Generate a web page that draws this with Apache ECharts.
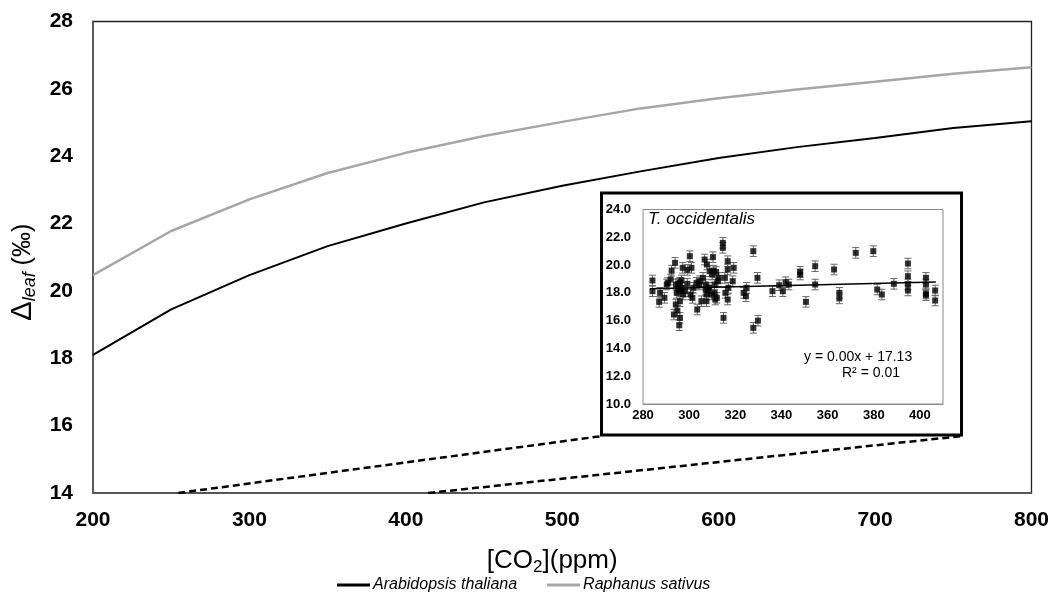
<!DOCTYPE html>
<html>
<head>
<meta charset="utf-8">
<script src="https://cdn.jsdelivr.net/npm/echarts@6/dist/echarts.min.js"></script>
<style>
html,body{margin:0;padding:0;background:#fff;}
#chart{width:1052px;height:592px;}
</style>
</head>
<body>
<div id="chart"></div>
<script>
// ---- Main chart data ----
const co2 = [200, 250, 300, 350, 400, 450, 500, 550, 600, 650, 700, 750, 800];
const arabidopsis = [18.1, 19.45, 20.47, 21.33, 22.0, 22.63, 23.12, 23.55, 23.95, 24.27, 24.54, 24.84, 25.04];
const raphanus = [20.47, 21.78, 22.72, 23.5, 24.1, 24.6, 25.02, 25.42, 25.72, 25.98, 26.21, 26.45, 26.64];
const connectorLeft = [[254.5, 14], [525.3, 15.69]];
const connectorRight = [[414.3, 14], [755.5, 15.69]];
const mainXTicks = [200, 300, 400, 500, 600, 700, 800];
const mainYTicks = [14, 16, 18, 20, 22, 24, 26, 28];

// ---- Inset (T. occidentalis) data ----
const insetCO2 = [284.1, 284.1, 287.0, 287.4, 289.3, 290.7, 292.4, 293.4, 293.9, 294.2, 294.6, 294.9, 295.3, 295.7, 296.0, 296.4, 296.7, 297.2, 297.4, 296.0,
  299.2, 300.3, 300.6, 301.0, 299.2, 301.4, 303.5, 304.3, 305.3, 306.0, 306.7, 307.2, 307.7, 308.2, 307.5, 308.9, 309.6, 310.3, 310.6, 311.0,
  311.3, 311.7, 312.0, 312.5, 314.6, 314.6, 314.9, 315.7, 316.7, 316.7, 316.7, 317.0, 318.9, 319.3, 323.6, 324.6, 324.9, 327.8, 327.8, 329.6,
  329.8, 336.1, 339.0, 340.6, 341.8, 343.2, 348.1, 348.1, 350.6, 354.6, 354.6, 362.8, 365.1, 365.1, 372.2, 379.8, 381.5, 383.5, 388.7, 394.8,
  394.8, 394.8, 394.8, 402.6, 402.6, 402.6, 402.6, 406.6, 406.6,
  290.3, 292.0, 294.3, 295.3, 296.0, 296.7, 298.2, 301.8, 303.2, 304.6, 307.2, 307.5, 308.6, 310.0, 311.0, 312.9, 315.5];
const insetDelta = [18.89, 18.12, 17.35, 18.0, 17.64, 18.7, 19.6, 16.44, 20.16, 17.16, 18.0, 16.72, 18.65, 15.67, 16.2, 18.12, 18.89, 19.8, 17.88, 17.4,
  19.65, 20.64, 17.88, 19.8, 18.65, 17.64, 16.8, 18.6, 17.4, 19.08, 20.4, 18.6, 20.04, 18.17, 17.4, 19.56, 17.88, 20.57, 19.6, 18.6,
  17.52, 19.5, 17.64, 18.84, 21.6, 21.24, 16.2, 18.0, 20.28, 19.68, 17.52, 18.36, 18.84, 19.8, 18.0, 17.76, 18.36, 15.48, 21.0, 19.08,
  16.0, 18.12, 18.55, 18.12, 18.77, 18.6, 19.51, 19.32, 17.35, 19.92, 18.6, 19.68, 18.0, 17.6, 20.88, 21.0, 18.24, 17.88, 18.65, 20.11,
  19.2, 18.6, 18.17, 19.08, 18.6, 17.95, 17.83, 18.17, 17.45,
  18.6, 18.96, 18.6, 18.24, 18.72, 18.36, 18.12, 18.36, 18.72, 18.84, 18.24, 17.88, 18.36, 19.32, 18.0, 19.08, 19.08];
const insetErrorBar = 0.38;
const insetTrendCO2 = [283.1, 406.9];
const insetTrendDelta = [18.29, 18.79];
const insetXTicks = [280, 300, 320, 340, 360, 380, 400];
const insetYTicks = [10, 12, 14, 16, 18, 20, 22, 24];
const insetTitle = 'T. occidentalis';
const insetEquation = 'y = 0.00x + 17.13';
const insetR2 = 'R² = 0.01';

const zip = (a, b) => a.map((v, i) => [v, b[i]]);
const FONT = '"Liberation Sans", Arial, sans-serif';

const chart = echarts.init(document.getElementById('chart'), null, {renderer: 'canvas'});

const option = {
  animation: false,
  backgroundColor: '#fff',
  textStyle: {fontFamily: FONT},
  grid: [
    {left: 93, right: 20, top: 21.5, bottom: 99, show: true, borderColor: '#222', borderWidth: 1.3, backgroundColor: 'transparent'},
    {left: 643, right: 109, top: 209.5, bottom: 188, show: true, borderColor: '#8a8a8a', borderWidth: 1, backgroundColor: '#fff', z: 3}
  ],
  xAxis: [
    {
      type: 'value', gridIndex: 0, min: mainXTicks[0], max: mainXTicks[mainXTicks.length - 1], interval: 100,
      splitLine: {show: false}, axisTick: {show: false},
      axisLine: {lineStyle: {color: '#555', width: 1.5}},
      axisLabel: {color: '#000', fontWeight: 'bold', fontSize: 21, fontFamily: FONT, margin: 17},
      name: '[CO{sub|2}](ppm)', nameLocation: 'middle', nameGap: 52,
      nameTextStyle: {color: '#000', fontSize: 26, fontFamily: FONT, padding: [0, 20, 0, 0],
        rich: {sub: {fontSize: 17, fontFamily: FONT, color: '#000', padding: [14, 0, 0, 0]}}}
    },
    {
      type: 'value', gridIndex: 1, min: insetXTicks[0], max: 410, interval: 20,
      splitLine: {show: false}, axisTick: {show: false},
      axisLine: {lineStyle: {color: '#8a8a8a', width: 1}},
      axisLabel: {color: '#000', fontWeight: 'bold', fontSize: 13, fontFamily: FONT, margin: 5, showMaxLabel: false}
    }
  ],
  yAxis: [
    {
      type: 'value', gridIndex: 0, min: mainYTicks[0], max: mainYTicks[mainYTicks.length - 1], interval: 2,
      splitLine: {show: false}, axisTick: {show: false},
      axisLine: {show: true, lineStyle: {color: '#555', width: 1.5}},
      axisLabel: {color: '#000', fontWeight: 'bold', fontSize: 21, fontFamily: FONT, margin: 20},
      name: '{d|Δ}{s|leaf}{p| (‰)}', nameLocation: 'middle', nameGap: 41, nameRotate: 90,
      nameTextStyle: {color: '#000', fontFamily: FONT, padding: [0, 30, 0, 0],
        rich: {
          d: {fontSize: 29, fontFamily: FONT, color: '#000'},
          s: {fontSize: 18, fontStyle: 'italic', fontFamily: FONT, color: '#000', padding: [14, 0, 0, 0]},
          p: {fontSize: 25, fontFamily: FONT, color: '#000'}
        }}
    },
    {
      type: 'value', gridIndex: 1, min: insetYTicks[0], max: insetYTicks[insetYTicks.length - 1], interval: 2,
      splitLine: {show: false}, axisTick: {show: false},
      axisLine: {show: true, lineStyle: {color: '#8a8a8a', width: 1}},
      axisLabel: {color: '#000', fontWeight: 'bold', fontSize: 13, fontFamily: FONT, margin: 12,
        formatter: v => v.toFixed(1)}
    }
  ],
  legend: {
    left: 332, top: 572, itemWidth: 33, itemHeight: 3, itemGap: 30, icon: 'rect',
    textStyle: {fontSize: 16, fontStyle: 'italic', color: '#000', fontFamily: FONT, padding: [0, 0, 0, -2]},
    data: ['Arabidopsis thaliana', 'Raphanus sativus']
  },
  graphic: [
    {type: 'rect', z: -10, shape: {x: 601.5, y: 193, width: 360, height: 242},
      style: {fill: '#fff', stroke: '#000', lineWidth: 3}},
    {type: 'text', left: 648, top: 211, z: 10,
      style: {text: insetTitle, font: 'italic 17px "Liberation Sans", Arial, sans-serif', fill: '#000'}},
    {type: 'text', left: 804, top: 350, z: 10,
      style: {text: insetEquation, font: '14px "Liberation Sans", Arial, sans-serif', fill: '#000'}},
    {type: 'text', left: 842, top: 366, z: 10,
      style: {text: insetR2, font: '14px "Liberation Sans", Arial, sans-serif', fill: '#000'}}
  ],
  series: [
    {
      name: 'Arabidopsis thaliana', type: 'line', xAxisIndex: 0, yAxisIndex: 0,
      data: zip(co2, arabidopsis), showSymbol: false, symbol: 'none',
      lineStyle: {color: '#000', width: 2}, itemStyle: {color: '#000'}
    },
    {
      name: 'Raphanus sativus', type: 'line', xAxisIndex: 0, yAxisIndex: 0,
      data: zip(co2, raphanus), showSymbol: false, symbol: 'none',
      lineStyle: {color: '#a6a6a6', width: 2.5}, itemStyle: {color: '#a6a6a6'}
    },
    {
      name: 'connectorLeft', type: 'line', xAxisIndex: 0, yAxisIndex: 0, data: connectorLeft,
      showSymbol: false, symbol: 'none', lineStyle: {color: '#000', width: 2.5, type: [7, 4]}
    },
    {
      name: 'connectorRight', type: 'line', xAxisIndex: 0, yAxisIndex: 0, data: connectorRight,
      showSymbol: false, symbol: 'none', lineStyle: {color: '#000', width: 2.5, type: [7, 4]}
    },
    {
      name: 'errorBars', type: 'custom', xAxisIndex: 1, yAxisIndex: 1, z: 4,
      data: zip(insetCO2, insetDelta),
      renderItem: function (params, api) {
        const x = api.value(0), y = api.value(1);
        const t = api.coord([x, y + insetErrorBar]);
        const b = api.coord([x, y - insetErrorBar]);
        const hw = 3.5;
        const st = {stroke: '#666', lineWidth: 1};
        return {type: 'group', children: [
          {type: 'line', shape: {x1: t[0], y1: t[1], x2: b[0], y2: b[1]}, style: st},
          {type: 'line', shape: {x1: t[0] - hw, y1: t[1], x2: t[0] + hw, y2: t[1]}, style: st},
          {type: 'line', shape: {x1: b[0] - hw, y1: b[1], x2: b[0] + hw, y2: b[1]}, style: st}
        ]};
      }
    },
    {
      name: 'points', type: 'scatter', xAxisIndex: 1, yAxisIndex: 1, z: 5,
      data: zip(insetCO2, insetDelta), symbol: 'rect', symbolSize: 6,
      itemStyle: {color: '#000'}
    },
    {
      name: 'trend', type: 'line', xAxisIndex: 1, yAxisIndex: 1, z: 6,
      data: zip(insetTrendCO2, insetTrendDelta), showSymbol: false, symbol: 'none',
      lineStyle: {color: '#000', width: 1.5}
    }
  ]
};
chart.setOption(option);
</script>
</body>
</html>
